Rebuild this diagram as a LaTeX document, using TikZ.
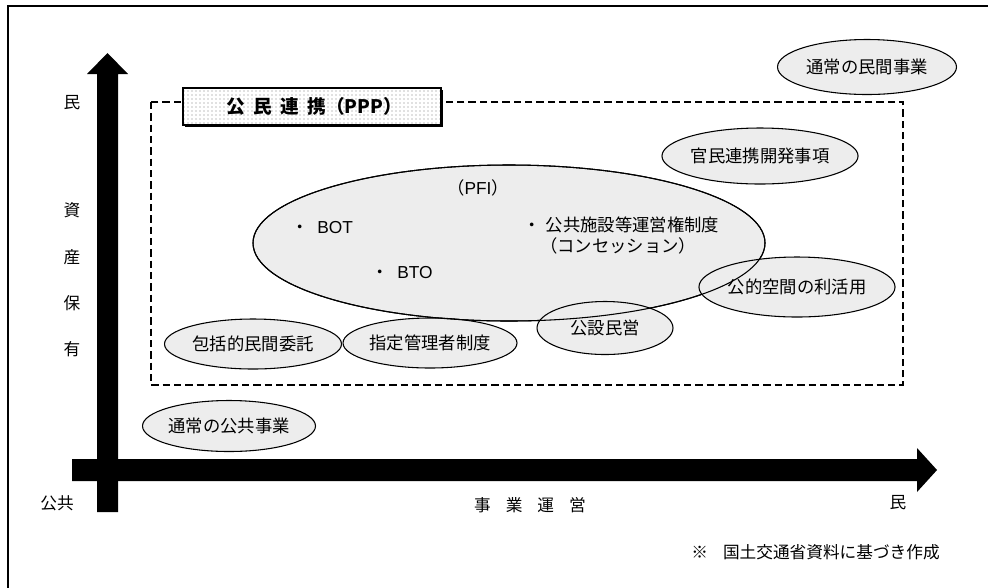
\documentclass[tikz,border=0pt]{standalone}
\usepackage{fontspec}
\setmainfont{Liberation Sans}
\newfontfamily\cjk{Noto Sans CJK JP}
\usetikzlibrary{patterns,shapes.geometric}
\begin{document}
\begin{tikzpicture}[x=0.75pt,y=-0.75pt,
  oval/.style={ellipse, draw=black, line width=0.8pt, fill=black!7, inner sep=0pt,
    font=\cjk\fontsize{13}{15}\selectfont},
  sz/.style 2 args={minimum width=#1*0.75pt, minimum height=#2*0.75pt},
  lbl/.style={font=\cjk\fontsize{12.5}{14}\selectfont, inner sep=0pt},
  txt/.style={font=\fontsize{13}{15}\selectfont, inner sep=0pt},
  axis/.style={fill=black, draw=none},
]
\useasboundingbox (0,0) rectangle (988,587);
\fill[white] (0,0) rectangle (988,587);
% outer frame (only top and left visible)
\draw[line width=2pt] (8,600) -- (8,6) -- (1000,6);

% dashed PPP region
\draw[line width=1.9pt, dash pattern=on 5.5pt off 3pt] (151,102) rectangle (903,385);

% PPP title box
\fill[black] (185,90) rectangle (443,127);
\node[draw=black, line width=1.6pt, preaction={fill=white}, pattern=dots, pattern color=black!50,
  sz={258}{37}, inner sep=0pt] (ppp) at (312,106.5) {};
\node[font=\cjk\bfseries\fontsize{14}{16}\selectfont, inner sep=0pt] (ppptxt) at (314,106.5)
  {公\hspace{0.45em}民\hspace{0.45em}連\hspace{0.45em}携（PPP）};

% axes
\path[axis] (97,512) -- (97,74) -- (87,74) -- (107.5,53) -- (128,74) -- (118,74) -- (118,512) -- cycle;
\path[axis] (72,459) -- (917,459) -- (917,448) -- (937,470) -- (917,492) -- (917,481) -- (72,481) -- cycle;

% axis labels
\node[lbl] (ymin) at (72,103) {民};
\node[lbl] (y1) at (72,210) {資};
\node[lbl] (y2) at (72,257) {産};
\node[lbl] (y3) at (72,303) {保};
\node[lbl] (y4) at (72,349) {有};
\node[lbl] (origin) at (57,503) {公共};
\node[lbl] (xlab) at (530,505) {事\hspace{0.9em}業\hspace{0.9em}運\hspace{0.9em}営};
\node[lbl] (xmax) at (898,503) {民};
\node[lbl, anchor=east] (note) at (940,552) {※\hspace{0.9em}国土交通省資料に基づき作成};

% ellipses
\node[oval, sz={512}{156}] (pfi) at (509,243) {};
\node[oval, sz={179}{55}] (minkan) at (867,67) {通常の民間事業};
\node[oval, sz={177}{56}] (kanmin) at (760,156) {官民連携開発事項};
\node[oval, sz={179}{60}] (koteki) at (797,287) {公的空間の利活用};
\node[oval, sz={136}{53}] (kosetsu) at (605,328) {公設民営};
\node[oval, sz={177}{50}] (hokatsu) at (253,344) {包括的民間委託};
\node[oval, sz={174}{50}] (shitei) at (430,343) {指定管理者制度};
\node[oval, sz={173}{51}] (kokyo) at (229,426) {通常の公共事業};
% re-stroke big ellipse outline over overlapping ones
\draw[line width=0.8pt] (pfi.center) ellipse [x radius=256, y radius=78];

% texts inside the PFI ellipse
\node[txt] (pfilab) at (478,188) {{\cjk （}PFI{\cjk ）}};
\node[txt, anchor=west] (bot) at (291,228) {{\cjk ・}\hspace{0.5em}BOT};
\node[txt, anchor=west] (bto) at (371,273) {{\cjk ・}\hspace{0.5em}BTO};
\node[txt, anchor=west, font=\cjk\fontsize{13}{15}\selectfont] (conc1) at (523,225) {・\hspace{0.3em}公共施設等運営権制度};
\node[txt, anchor=west, font=\cjk\fontsize{13}{15}\selectfont] (conc2) at (540,246) {（コンセッション）};
\end{tikzpicture}
\end{document}
